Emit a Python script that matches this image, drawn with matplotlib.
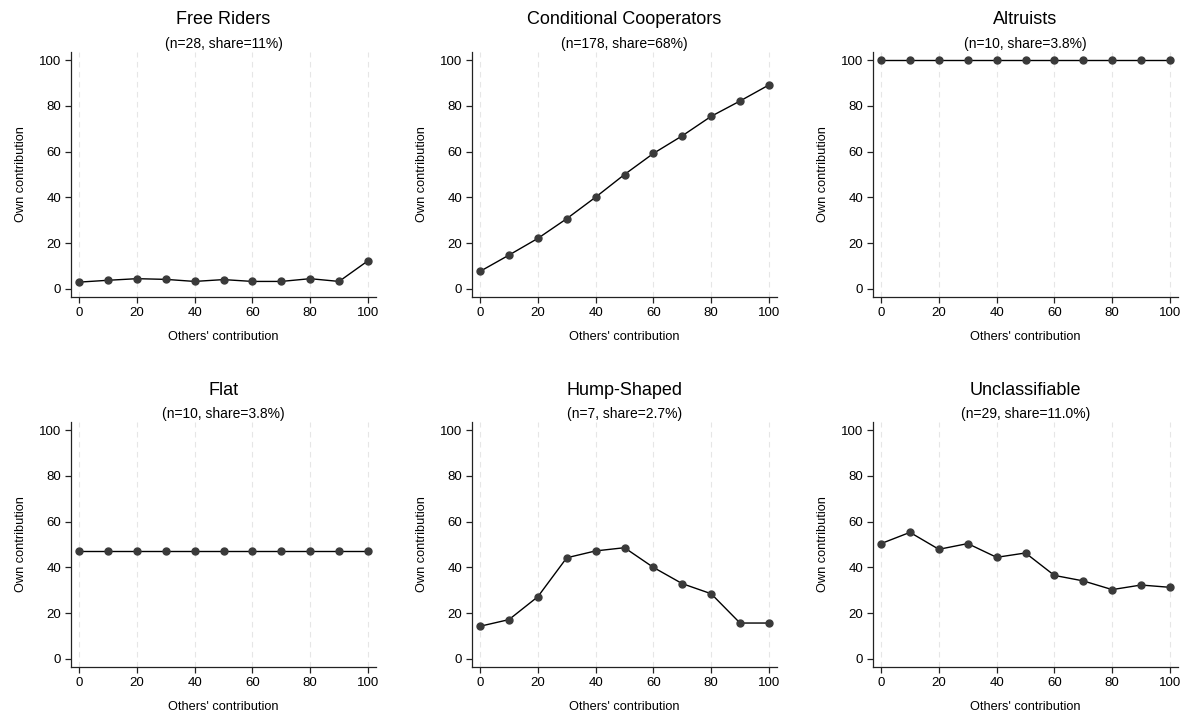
import matplotlib
matplotlib.use("Agg")
import matplotlib.pyplot as plt

others = [0, 10, 20, 30, 40, 50, 60, 70, 80, 90, 100]

free_riders = [3.0, 3.8, 4.5, 4.2, 3.3, 4.1, 3.3, 3.3, 4.5, 3.3, 12.3]
conditional = [7.7, 14.8, 22.1, 30.7, 40.1, 50.0, 59.2, 66.9, 75.4, 82.1, 89.1]
altruists = [100, 100, 100, 100, 100, 100, 100, 100, 100, 100, 100]
flat = [47.0, 47.0, 47.0, 47.0, 47.0, 47.0, 47.0, 47.0, 47.0, 47.0, 47.0]
hump = [14.3, 17.2, 27.2, 44.2, 47.2, 48.6, 40.0, 32.9, 28.5, 15.7, 15.7]
unclass = [50.4, 55.3, 47.9, 50.4, 44.4, 46.3, 36.5, 34.1, 30.3, 32.3, 31.3]

titles = ["Free Riders", "Conditional Cooperators", "Altruists",
          "Flat", "Hump-Shaped", "Unclassifiable"]
subtitles = ["(n=28, share=11%)", "(n=178, share=68%)", "(n=10, share=3.8%)",
             "(n=10, share=3.8%)", "(n=7, share=2.7%)", "(n=29, share=11.0%)"]
series = [free_riders, conditional, altruists, flat, hump, unclass]
ticks = [0, 20, 40, 60, 80, 100]

plt.rcParams['font.family'] = ['Liberation Sans', 'DejaVu Sans']

W, H = 1182, 713
fig = plt.figure(figsize=(W / 100, H / 100), dpi=100)
fig.patch.set_facecolor("white")

lefts = [71, 472, 873]
tops = [52, 422]
aw, ah = 305, 245

for i in range(6):
    r, c = divmod(i, 3)
    l = lefts[c]
    t = tops[r]
    ax = fig.add_axes([l / W, 1 - (t + ah) / H, aw / W, ah / H])
    ax.set_xlim(-2.8, 102.8)
    ax.set_ylim(-3.5, 103.5)
    for s in ["top", "right"]:
        ax.spines[s].set_visible(False)
    for s in ["left", "bottom"]:
        ax.spines[s].set_linewidth(0.9)
        ax.spines[s].set_color("#222222")
    ax.set_xticks(ticks)
    ax.set_yticks(ticks)
    ax.tick_params(axis="both", direction="out", length=4, width=0.9,
                   labelsize=9.5, colors="#222222", labelcolor="black", pad=3)
    for x in ticks:
        ax.axvline(x, color="#e6e6e6", lw=0.8, ls=(0, (5, 4)), zorder=0)
    ax.plot(others, series[i], color="black", lw=1.0, zorder=2,
            marker="o", markersize=5, markerfacecolor="#3a3a3a",
            markeredgecolor="#3a3a3a")
    ax.set_xlabel("Others' contribution", fontsize=9.2, labelpad=9)
    ax.set_ylabel("Own contribution", fontsize=9.2, labelpad=9)
    cx = (l + aw / 2) / W
    fig.text(cx, 1 - (t - 32) / H, titles[i], ha="center", va="center",
             fontsize=13)
    fig.text(cx, 1 - (t - 8) / H, subtitles[i], ha="center", va="center",
             fontsize=10)

fig.savefig("out.png", dpi=100, facecolor="white")
